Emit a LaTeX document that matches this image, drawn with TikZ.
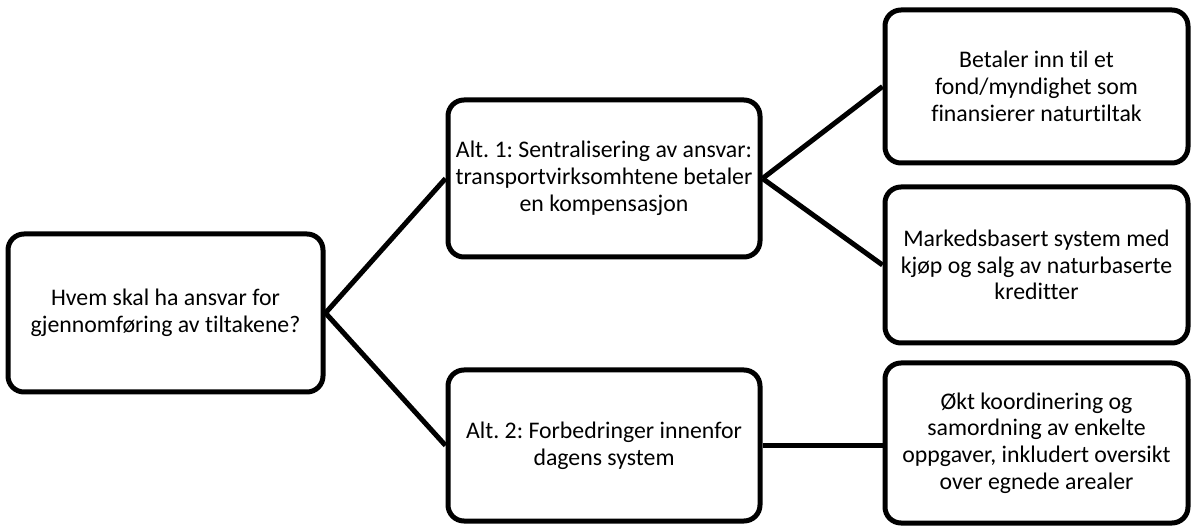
\documentclass[tikz,border=0pt]{standalone}
\usepackage{fontspec}
\setmainfont{Carlito}[Ligatures={NoCommon}]
\frenchspacing
\begin{document}
\begin{tikzpicture}[x=1pt,y=-1pt,
  box/.style={draw=black,line width=5pt,rounded corners=16pt,fill=white,
    align=center,inner sep=0pt,font=\fontsize{23.8}{26.8}\selectfont},
  conn/.style={draw=black,line width=5pt}]
\useasboundingbox (0,0) rectangle (1192,526);
\node[box,minimum width=315pt,minimum height=158pt] (L) at (165.5,313)
  {Hvem skal ha ansvar for\\gjennomføring av tiltakene?};
\node[box,minimum width=312pt,minimum height=157pt] (M1) at (604,178.5)
  {Alt. 1: Sentralisering av ansvar:\\transportvirksomhtene betaler\\en kompensasjon};
\node[box,minimum width=312pt,minimum height=151pt] (M2) at (604,445.5)
  {Alt. 2: Forbedringer innenfor\\dagens system};
\node[box,minimum width=303pt,minimum height=153pt] (R1) at (1036.5,86.5)
  {Betaler inn til et\\fond/myndighet som\\finansierer naturtiltak};
\node[box,minimum width=303pt,minimum height=156pt] (R2) at (1036.5,265)
  {Markedsbasert system med\\kjøp og salg av naturbaserte\\kreditter};
\node[box,minimum width=303pt,minimum height=160pt] (R3) at (1036.5,443)
  {Økt koordinering og\\samordning av enkelte\\oppgaver, inkludert oversikt\\over egnede arealer};
\draw[conn] (L.east) -- (M1.west);
\draw[conn] (L.east) -- (M2.west);
\draw[conn] (M1.east) -- (R1.west);
\draw[conn] (M1.east) -- (R2.west);
\draw[conn] (M2.east) -- (M2.east -| R3.west);
\end{tikzpicture}
\end{document}
